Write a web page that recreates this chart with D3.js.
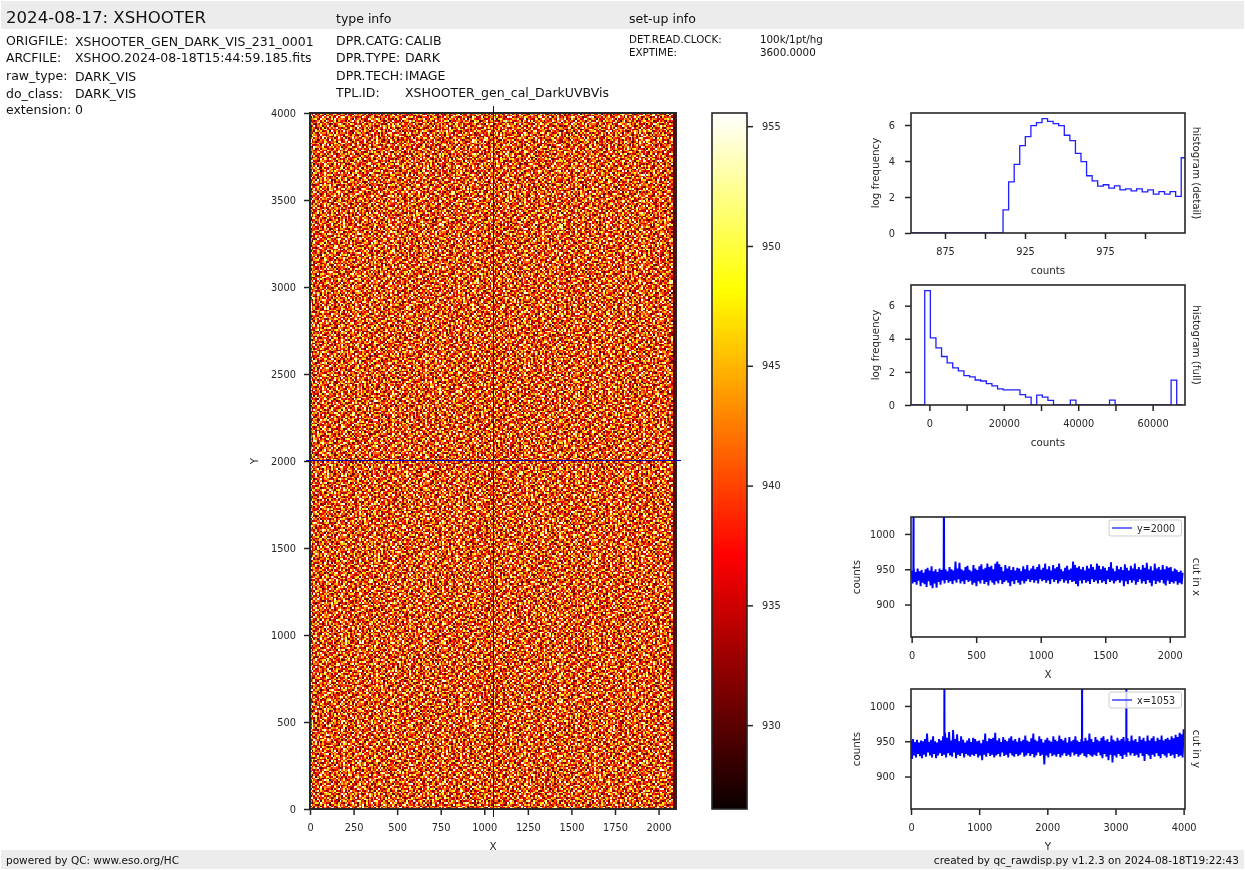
<!DOCTYPE html>
<html><head><meta charset="utf-8">
<script src="https://cdn.jsdelivr.net/npm/d3@7"></script>
<style>
html,body{margin:0;padding:0;background:#fff;width:1245px;height:870px;overflow:hidden}
#wrap{position:relative;width:1245px;height:870px}
canvas,svg{position:absolute;left:0;top:0}
text{font-family:"DejaVu Sans",sans-serif;fill:#262626}
</style></head><body><div id="wrap"><canvas id="img"></canvas><svg id="s" width="1245" height="870"></svg></div>
<script>
const infoLeft=[["ORIGFILE:","XSHOOTER_GEN_DARK_VIS_231_0001",45,46],["ARCFILE:","XSHOO.2024-08-18T15:44:59.185.fits",61.5,62],["raw_type:","DARK_VIS",80,81],["do_class:","DARK_VIS",98,98],["extension:","0",114,114]];
const infoType=[["DPR.CATG:","CALIB",45],["DPR.TYPE:","DARK",62],["DPR.TECH:","IMAGE",80],["TPL.ID:","XSHOOTER_gen_cal_DarkUVBVis",97]];
const infoSetup=[["DET.READ.CLOCK:","100k/1pt/hg",43],["EXPTIME:","3600.0000",56]];

// Representative sample of the image noise (hand-estimated levels, not per-pixel data)
const noiseLevels=[930,933,935,937,939,941,943,946,950,955];
const noiseSample=[
"730915826414973068215739402861957204618392750164",
"182647039528160493752086471395820637194058263719",
"956203718490327581649203758164907325816204971638",
"304871965230894176205836914072638159047318652094",
"617429083656172309487154026983407152698341720856",
"248095371629485013762948560317298470613925086471",
"893160427185036927148307519264861053729416380925",
"061738592404721856093627184095374296081537402618",
"529384016778315204969045827361029586174803926570",
"375016248960492873151284067593746120593867105284",
"840692753127658130492719563048215937408261549703",
"196325807434071692583860241975386401752914036827",
"702481936565218409367042198536970528613045782196",
"458170392698307546124196305782041653927408156039",
"913746058221964083757318240691584270316895273640",
"067239841575082319646950813274639148052763914085",
"384502169790436271583127694508172395860341725698",
"725981403616752940380463571829301564298617034152",
"149063752883197056241725038964587102643985160273",
"506318927442861573906298145730264091785236497810",
"871240695360493718254076392518937640152079843126",
"293756180419526840737184520963172853960412365908",
"630418259774102369585692781034065127348295617043",
"458692013186375420192043867519784316052938170625",
"917035486202849617353761904258120965473681029474",
"062381749551470936286590317482693078115294780236",
"745926103848216057391624850973581420367016925843",
"381057692460938241757302618495016783249851370612",
"596814230772561094383879042156427359108643219057",
"210473865914087362596140753928361907584260731986",
"678392105443915870262957186430285613097148625309",
"835106247990627413581374029685934275160793468021",
"142768593036485920713068254179071386245910837652",
"907253618421739051486912673508429560371286504193",
"368510924775804263197450381926812037954163279840",
"524079186303162785940867295314056498127305618927",
"791346250868923017652135940768273601849572036145",
"056829473112576409387396218504169325780841963270",
"483917062565048132796024763189508641237916405382",
"219640785397381256040752891436720195364087251698",
"675083129484926307518169340275483726910542876013",
"830472956101654873293507126948031859426713029584",
"147268305996713508420863952714692340157089635271",
"902531674825480391676241083597168205793416240958",
"368945017232097654811375926480425781036952817603",
"751206389648312470962908154736053419627380145926",
"296078514303765821490632187059846127309514761238",
"584713620979140365287315460892371950648223905716"];
const noiseCellSize=10, imageWidth=2100, imageHeight=4000, darkEdgeFrom=2080, darkEdgeValue=930;

// histogram (detail)
const detailStart=855.6, detailBin=3.48;
const detailValues=[0,0,0,0,0,0,0,0,0,0,0,0,0,0,0,0,1.28,2.84,3.81,4.85,5.35,5.97,6.13,6.35,6.2,6.08,5.97,5.43,5.13,4.42,3.96,3.18,2.9,2.6,2.68,2.49,2.62,2.4,2.45,2.34,2.45,2.29,2.4,2.16,2.3,2.16,2.3,2.04,4.18];
const detailTicks=[875,900,925,950,975,1000];
const detailLabels=["875","","925","","975",""];
// histogram (full)
const fullStart=-1255, fullBin=1505;
const fullValues=[6.91,4.06,3.45,2.93,2.55,2.24,2.06,1.78,1.7,1.51,1.45,1.29,1.15,.97,.91,.91,.91,.63,.48,0,.6,.48,.28,0,0,0,.3,0,0,0,0,0,0,.3,0,0,0,0,0,0,0,0,0,0,1.5,0];
const fullTicks=[0,10000,20000,30000,40000,50000,60000];
const fullLabels=["0","","20000","","40000","","60000"];

// cuts: upper and lower envelope of the noisy profile
const cutXHigh=[948,950,946,951,947,949,945,950,952,948,954,947,950,946,951,949,952,950,947,953,950,948,961,951,959,950,948,953,955,949,947,956,951,949,954,957,950,952,958,953,955,950,958,961,957,953,947,956,951,954,949,953,948,952,951,947,954,950,956,948,951,955,950,953,957,949,952,958,950,954,948,956,951,953,958,950,947,952,955,949,951,961,956,952,954,950,953,948,955,951,957,953,949,958,955,950,954,952,948,953,960,951,947,955,950,953,949,957,952,948,955,951,958,950,953,949,956,952,959,950,954,948,958,951,953,949,956,950,954,952,953,947,951,949,946,948,945];
const cutXLow=[930,932,928,934,926,931,929,925,933,927,923,930,924,932,928,934,930,935,931,933,929,934,931,936,930,933,929,935,932,934,928,931,926,933,930,935,929,932,927,934,931,928,933,930,935,929,932,934,931,926,933,929,935,931,928,934,930,933,936,932,935,931,934,930,936,933,935,931,934,929,936,932,935,930,933,936,931,934,930,935,932,933,929,926,934,930,935,931,933,929,936,932,934,930,935,931,933,929,936,932,934,930,933,935,931,934,926,933,929,935,931,934,928,932,936,930,933,929,935,931,926,934,929,933,931,935,930,927,934,929,932,930,933,928,931,929,927];
const cutXSpikes=[15,250], spikeTop=1100;
const cutYHigh=[951,953,949,952,948,951,950,953,961,949,952,957,950,948,953,951,957,962,955,963,951,966,953,960,950,957,952,948,951,954,949,955,953,950,951,947,952,961,950,954,953,955,962,951,954,949,956,952,950,954,957,951,953,949,955,950,952,958,951,949,954,961,952,950,957,953,948,952,955,951,949,957,952,950,958,953,951,955,948,956,950,952,957,951,949,953,950,955,951,961,953,949,956,952,950,955,957,951,953,949,958,952,950,955,951,953,956,949,954,950,958,951,953,949,957,952,955,950,958,951,954,957,950,955,952,958,951,953,955,952,957,954,959,956,962,960,967];
const cutYLow=[925,930,927,932,929,926,931,928,934,930,927,932,926,930,933,929,931,927,933,930,928,934,926,931,929,933,927,932,930,928,931,929,932,927,930,923,931,928,933,929,931,927,930,932,928,934,929,931,927,933,930,928,932,929,931,934,928,930,933,929,932,927,930,934,929,931,917,930,927,933,929,931,928,932,927,930,933,929,931,928,934,930,932,928,931,933,929,927,932,930,928,931,929,934,930,926,932,928,923,931,920,930,927,932,929,925,931,928,934,930,933,929,931,927,933,929,922,932,930,925,931,928,933,929,926,932,930,927,933,929,931,926,932,928,930,927,929];
const cutYSpikes=[490,2510,3160];
const cbTicks=[930,935,940,945,950,955];

const cNoise=d3.scaleOrdinal().domain(d3.range(10).map(String)).range(noiseLevels);
const hot=d3.scaleLinear().domain([926.5,955.55]).range([0,1]);
function hotColor(v){const t=Math.max(0,Math.min(1,hot(v)));
  const r=t<.365?.0416+(1-.0416)*t/.365:1, g=t<.365?0:t<.746?(t-.365)/.381:1, b=t<.746?0:(t-.746)/.254;
  return `rgb(${Math.round(r*255)},${Math.round(g*255)},${Math.round(b*255)})`;}

const svg=d3.select("#s");
const dark="#262626", tickSize=9.8, labelSize=10.3;
svg.append("rect").attr("x",1).attr("y",1).attr("width",1243).attr("height",28).attr("fill","#ececec");
svg.append("rect").attr("x",1).attr("y",850).attr("width",1243).attr("height",19).attr("fill","#ececec");
function txt(x,y,s,size,o={}){const t=svg.append("text").attr("x",x).attr("y",y).attr("font-size",size).text(s).attr("text-anchor",o.a||"start");
  if(o.c)t.style("fill",o.c); if(o.r!==undefined)t.attr("transform",`rotate(${o.r} ${x} ${y})`); return t;}
txt(6,23,"2024-08-17: XSHOOTER",16.6,{c:"#111"});
txt(336,23,"type info",12.5,{c:"#111"});
txt(629,23,"set-up info",12.5,{c:"#111"});
infoLeft.forEach(d=>{txt(6,d[2],d[0],12.5,{c:"#111"});txt(75,d[3],d[1],12.5,{c:"#111"});});
infoType.forEach(d=>{txt(336,d[2],d[0],12.5,{c:"#111"});txt(405,d[2],d[1],12.5,{c:"#111"});});
infoSetup.forEach(d=>{txt(629,d[2],d[0],10.3,{c:"#111"});txt(760,d[2],d[1],10.3,{c:"#111"});});
txt(6,864,"powered by QC: www.eso.org/HC",10.5,{c:"#111"});
txt(1239,864,"created by qc_rawdisp.py v1.2.3 on 2024-08-18T19:22:43",10.5,{a:"end",c:"#111"});

function frame(x0,x1,y0,y1,w=1.6){svg.append("rect").attr("x",x0).attr("y",y0).attr("width",x1-x0).attr("height",y1-y0).attr("fill","none").attr("stroke",dark).attr("stroke-width",w);}
function xAxis(sc,y,ticks,labels){const a=d3.axisBottom(sc).tickValues(ticks).tickSize(6).tickFormat((d,i)=>labels?labels[i]:d);
  const g=svg.append("g").attr("transform",`translate(0,${y})`).call(a);g.select(".domain").remove();
  g.selectAll("line").attr("stroke",dark).attr("stroke-width",1.5);g.selectAll("text").attr("font-size",tickSize).attr("font-family",null).attr("y",15).attr("dy","0.71em");}
function yAxis(sc,x,ticks,off=15){const a=d3.axisLeft(sc).tickValues(ticks).tickSize(6).tickFormat(d=>d);
  const g=svg.append("g").attr("transform",`translate(${x},0)`).call(a);g.select(".domain").remove();
  g.selectAll("line").attr("stroke",dark).attr("stroke-width",1.5);g.selectAll("text").attr("font-size",tickSize).attr("font-family",null).attr("x",-off);}

// main image
const X=d3.scaleLinear().domain([0,2100]).range([310,676]);
const Y=d3.scaleLinear().domain([0,4000]).range([809,113]);
const cv=document.getElementById("img");cv.width=1245;cv.height=870;const ctx=cv.getContext("2d");
const nCols=imageWidth/noiseCellSize,nRows=imageHeight/noiseCellSize,N=noiseSample.length;
for(let r=0;r<nRows;r++){for(let c=0;c<nCols;c++){
  const row=noiseSample[(r+17*Math.floor(c/N))%N];
  const ch=row[(c+29*Math.floor(r/N))%row.length];
  const xv=c*noiseCellSize, v=xv>=darkEdgeFrom?darkEdgeValue:cNoise(ch);
  const x0=Math.round(X(xv)),x1=Math.round(X(xv+noiseCellSize)),y1=Math.round(Y(r*noiseCellSize)),y0=Math.round(Y((r+1)*noiseCellSize));
  ctx.fillStyle=hotColor(v);ctx.fillRect(x0,y0,x1-x0,y1-y0);
}}
frame(310,676,113,809,2);
xAxis(X,809,d3.range(0,2001,250));
yAxis(Y,310,d3.range(0,4001,500),14);
txt(493,850,"X",labelSize,{a:"middle"});
txt(258,461,"Y",labelSize,{a:"middle",r:-90});
svg.append("line").attr("x1",X(1053)).attr("x2",X(1053)).attr("y1",106).attr("y2",817).attr("stroke","#0000b0").attr("stroke-width",1).attr("shape-rendering","crispEdges");
svg.append("line").attr("x1",306).attr("x2",681).attr("y1",Y(2000)-.5).attr("y2",Y(2000)-.5).attr("stroke","#0000b0").attr("stroke-width",1).attr("shape-rendering","crispEdges");

// colour bar
const CB=d3.scaleLinear().domain([926.5,955.55]).range([809,113]);
for(let py=113;py<809;py++){ctx.fillStyle=hotColor(CB.invert(py+.5));ctx.fillRect(712,py,35,1);}
frame(712,747,113,809);
{const g=svg.append("g").attr("transform","translate(747,0)").call(d3.axisRight(CB).tickValues(cbTicks).tickSize(6).tickFormat(d=>d));
 g.select(".domain").remove();g.selectAll("line").attr("stroke",dark).attr("stroke-width",1.5);g.selectAll("text").attr("font-size",tickSize).attr("font-family",null).attr("x",15);}

// step histograms
function hist(x0,x1,y0,y1,xd,yd,vals,start,bin,xt,xl,yt,rlabel){
  const sx=d3.scaleLinear().domain(xd).range([x0,x1]),sy=d3.scaleLinear().domain(yd).range([y1,y0]);
  const pts=[[xd[0],0],[start,0]];
  vals.forEach((v,i)=>{pts.push([start+i*bin,v]);pts.push([start+(i+1)*bin,v]);});
  const id="c"+x0+y0;
  svg.append("clipPath").attr("id",id).append("rect").attr("x",x0).attr("y",y0).attr("width",x1-x0).attr("height",y1-y0);
  svg.append("path").attr("clip-path",`url(#${id})`).attr("fill","none").attr("stroke","#1f1fff").attr("stroke-width",1.3)
    .attr("d",d3.line().x(d=>sx(d[0])).y(d=>sy(d[1]))(pts));
  frame(x0,x1,y0,y1);
  xAxis(sx,y1,xt,xl);yAxis(sy,x0,yt,16);
  txt(1048,y1+41,"counts",labelSize,{a:"middle"});
  txt(879,(y0+y1)/2,"log frequency",labelSize,{a:"middle",r:-90});
  txt(1193,(y0+y1)/2,rlabel,labelSize,{a:"middle",r:90});
}
hist(911,1185,113,233,[853.75,1025],[0,6.667],detailValues,detailStart,detailBin,detailTicks,detailLabels,[0,2,4,6],"histogram (detail)");
hist(911,1185,285,405,[-4950,68700],[0,7.25],fullValues,fullStart,fullBin,fullTicks,fullLabels,[0,2,4,6],"histogram (full)");

// cuts
function cut(x0,x1,y0,y1,xd,hi,lo,spikes,xmax,xt,xlab,rlabel,leg){
  const sx=d3.scaleLinear().domain(xd).range([x0,x1]),sy=d3.scaleLinear().domain([854,1024]).range([y1,y0]);
  const step=xmax/(hi.length-1);let pts=[];
  hi.forEach((h,i)=>{pts.push([i*step,h]);if(i<lo.length-1||i===0)pts.push([(i+.5)*step,lo[i]]);});
  spikes.forEach(s=>{pts.push([s-2,950]);pts.push([s,spikeTop]);pts.push([s+2,950]);});
  pts=pts.filter(p=>p[0]<=xmax).sort((a,b)=>a[0]-b[0]);
  const id="c"+x0+y0;
  svg.append("clipPath").attr("id",id).append("rect").attr("x",x0).attr("y",y0).attr("width",x1-x0).attr("height",y1-y0);
  svg.append("path").attr("clip-path",`url(#${id})`).attr("fill","none").attr("stroke","#0000ff").attr("stroke-width",1.9)
    .attr("d",d3.line().x(d=>sx(d[0])).y(d=>sy(d[1]))(pts));
  frame(x0,x1,y0,y1);
  xAxis(sx,y1,xt,null);yAxis(sy,x0,[900,950,1000],16);
  txt(1048,y1+41,xlab,labelSize,{a:"middle"});
  txt(860,(y0+y1)/2,"counts",labelSize,{a:"middle",r:-90});
  txt(1193,(y0+y1)/2,rlabel,labelSize,{a:"middle",r:90});
  svg.append("rect").attr("x",1109).attr("y",y0+3).attr("width",72.5).attr("height",16).attr("rx",2).attr("fill","#fff").attr("fill-opacity",.8).attr("stroke","#ccc").attr("stroke-width",1);
  svg.append("line").attr("x1",1112).attr("x2",1132).attr("y1",y0+11).attr("y2",y0+11).attr("stroke","#1f1fff").attr("stroke-width",1.3);
  txt(1137,y0+14.5,leg,9.6);
}
cut(911,1185,517,637,[-5,2118],cutXHigh,cutXLow,cutXSpikes,2100,[0,500,1000,1500,2000],"X","cut in x","y=2000");
cut(911,1185,689,809,[0,4020],cutYHigh,cutYLow,cutYSpikes,4000,[0,1000,2000,3000,4000],"Y","cut in y","x=1053");
</script></body></html>
